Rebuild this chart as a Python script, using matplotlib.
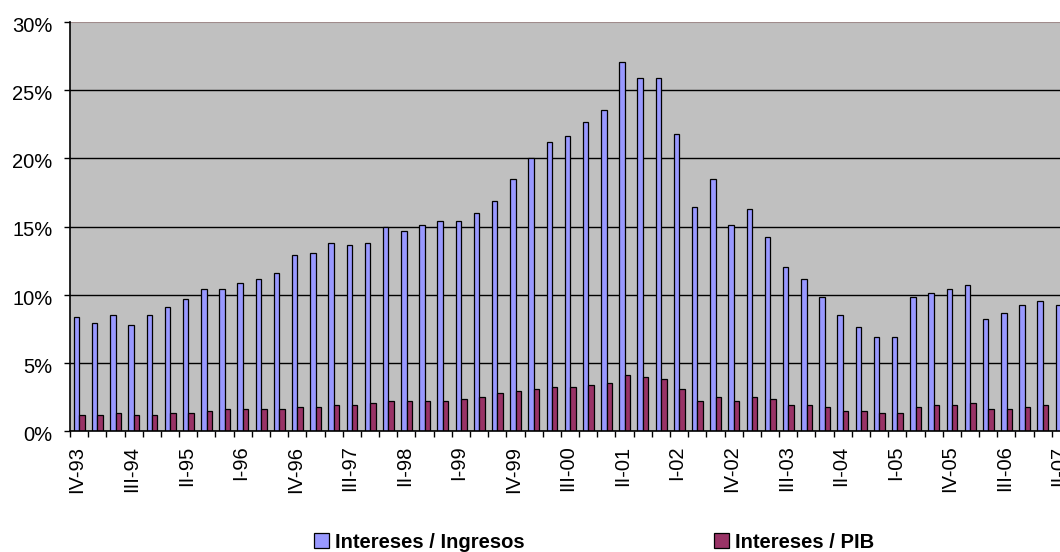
import numpy as np
import matplotlib
matplotlib.use('Agg')
import matplotlib.pyplot as plt
import matplotlib.transforms as mtransforms
from matplotlib.ticker import FuncFormatter

# quarterly series, IV-93 .. II-07 (values in %)
ingresos = [8.36, 7.92, 8.51, 7.78, 8.51, 9.10, 9.69, 10.42, 10.42, 10.87,
            11.16, 11.60, 12.93, 13.07, 13.81, 13.66, 13.81, 14.99, 14.69, 15.13,
            15.43, 15.43, 16.02, 16.90, 18.52, 19.99, 21.17, 21.61, 22.64, 23.52,
            27.05, 25.88, 25.88, 21.75, 16.46, 18.52, 15.13, 16.31, 14.25, 12.04,
            11.16, 9.84, 8.51, 7.63, 6.89, 6.89, 9.84, 10.13, 10.42, 10.72,
            8.22, 8.66, 9.25, 9.54, 9.25]
pib = [1.15, 1.15, 1.30, 1.15, 1.15, 1.30, 1.30, 1.45, 1.59, 1.59,
       1.59, 1.59, 1.74, 1.74, 1.89, 1.89, 2.04, 2.18, 2.18, 2.18,
       2.18, 2.33, 2.48, 2.77, 2.92, 3.07, 3.21, 3.21, 3.36, 3.51,
       4.10, 3.95, 3.80, 3.07, 2.18, 2.48, 2.18, 2.48, 2.33, 1.89,
       1.89, 1.74, 1.45, 1.45, 1.30, 1.30, 1.74, 1.89, 1.89, 2.04,
       1.59, 1.59, 1.74, 1.89, 1.85]
tick_labels = ['IV-93', 'III-94', 'II-95', 'I-96', 'IV-96', 'III-97', 'II-98',
               'I-99', 'IV-99', 'III-00', 'II-01', 'I-02', 'IV-02', 'III-03',
               'II-04', 'I-05', 'IV-05', 'III-06', 'II-07']
series_names = ['Intereses / Ingresos', 'Intereses / PIB']

FONT = 'Liberation Sans'
FS = 14.5


def main():
    n = len(ingresos)
    x = np.arange(n)
    fig = plt.figure(figsize=(10.6, 5.52), dpi=100)
    # plot area runs past the right edge, as in the original
    ax = fig.add_axes([70 / 1060, 121 / 552, 1000 / 1060, 409 / 552])
    ax.set_facecolor('#C0C0C0')
    ax.set_axisbelow(True)

    w = 0.3
    b1 = ax.bar(x - 0.14, ingresos, w, color='#9999FF', edgecolor='black', linewidth=0.9)
    b2 = ax.bar(x + 0.16, pib, w, color='#993366', edgecolor='black', linewidth=0.9)

    ax.set_xlim(-0.5, n - 0.5)
    ax.set_ylim(0, 30)
    ax.set_yticks(np.arange(0, 31, 5))
    ax.yaxis.set_major_formatter(FuncFormatter(lambda v, p: '{:.0f}%'.format(v)))
    ax.grid(True, axis='y', color='black', linewidth=1)
    top = ax.get_ygridlines()[-1]
    top.set_color('#a08c8c')
    top.set_linewidth(0.8)

    ax.set_xticks(np.arange(-0.5, n, 1))
    ax.set_xticklabels([])
    ax.set_xticks(np.arange(0, n, 3), minor=True)
    ax.set_xticklabels(tick_labels, minor=True, rotation=90, fontsize=FS, family=FONT)
    ax.tick_params(axis='x', which='major', direction='out', length=4.5, width=1)
    ax.tick_params(axis='x', which='minor', length=0, pad=10.5)
    ax.tick_params(axis='y', direction='out', length=4.5, width=1, pad=8, labelsize=FS)

    # small nudges so the labels sit where the original puts them
    dx = mtransforms.ScaledTranslation(-2 / 100, 0, fig.dpi_scale_trans)
    dy = mtransforms.ScaledTranslation(0, -2.5 / 100, fig.dpi_scale_trans)
    for lab in ax.get_xticklabels(minor=True):
        lab.set_transform(lab.get_transform() + dx)
    for lab in ax.get_yticklabels():
        lab.set_family(FONT)
        lab.set_transform(lab.get_transform() + dy)

    for s in ['top', 'right']:
        ax.spines[s].set_visible(False)
    ax.spines['left'].set_linewidth(1.2)
    ax.spines['bottom'].set_linewidth(1.2)

    fig.legend([b1, b2], series_names, ncol=2, loc='center',
               bbox_to_anchor=(594 / 1060, 10 / 552), frameon=False,
               prop={'family': FONT, 'weight': 'bold', 'size': FS},
               handlelength=0.75, handleheight=0.75, handletextpad=0.3,
               columnspacing=9.4, borderpad=0)

    fig.savefig('out.png', dpi=100)


if __name__ == '__main__':
    main()
